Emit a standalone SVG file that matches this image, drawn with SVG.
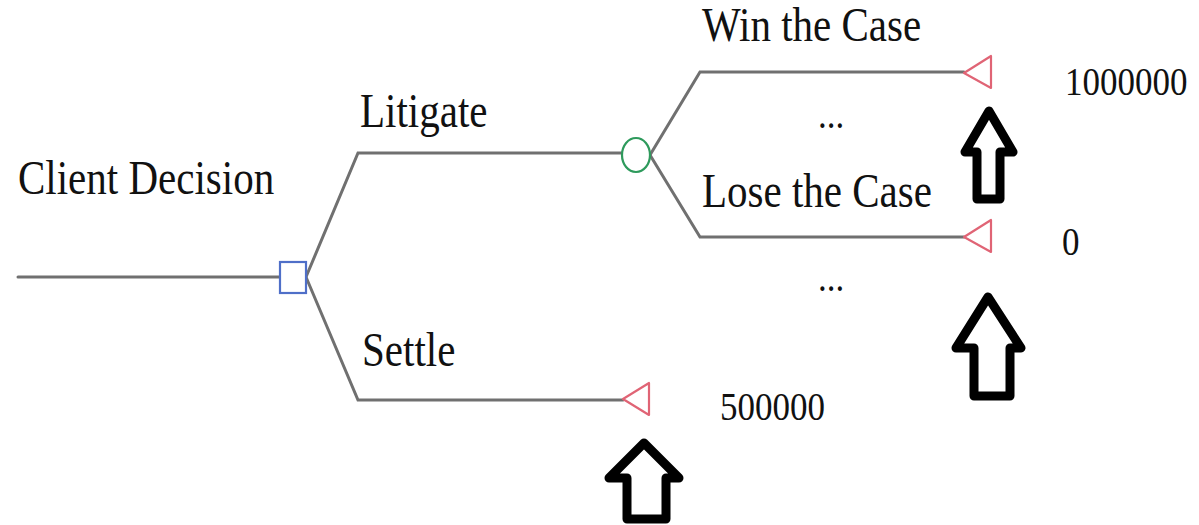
<svg xmlns="http://www.w3.org/2000/svg" width="1199" height="525" viewBox="0 0 1199 525">
  <style>
    .edge { fill: none; stroke: #707070; stroke-width: 3; stroke-linecap: round; }
    .decision { fill: #ffffff; stroke: #4f6fc8; stroke-width: 2.2; }
    .chance { fill: #ffffff; stroke: #2e9a5c; stroke-width: 2.2; }
    .terminal { fill: #ffffff; stroke: #e06475; stroke-width: 2.2; stroke-linejoin: round; }
    .pointer { fill: #ffffff; stroke: #000000; stroke-width: 9; stroke-linejoin: round; }
    .label { font-family: "Liberation Serif", "Times New Roman", serif; font-size: 41px; fill: #111111; }
    .value { font-family: "Liberation Serif", "Times New Roman", serif; font-size: 35px; fill: #111111; }
  </style>

  <!-- branches -->
  <g id="connectors">
    <line class="edge" x1="18" y1="277" x2="280" y2="277"/>
    <polyline class="edge" points="306,277 358,153 622,153"/>
    <polyline class="edge" points="306,277 358,400 623,400"/>
    <polyline class="edge" points="650,155 700,72 964,72"/>
    <polyline class="edge" points="650,155 700,237 964,237"/>
  </g>

  <!-- decision node -->
  <g id="client-decision">
    <rect class="decision" x="280" y="262" width="26" height="31"/>
    <text class="label" transform="matrix(1,0,0,1.17,18,194)">Client Decision</text>
  </g>

  <!-- litigate branch with chance node -->
  <g id="litigate">
    <text class="label" transform="matrix(1,0,0,1.17,360,127)">Litigate</text>
    <ellipse class="chance" cx="636" cy="155" rx="14" ry="17"/>
  </g>

  <g id="win">
    <text class="label" transform="matrix(1,0,0,1.17,702,41)">Win the Case</text>
    <polygon class="terminal" points="964,73 991,56 991,88"/>
    <text class="value" transform="matrix(1,0,0,1.17,1065,95)">1000000</text>
    <text class="value" transform="matrix(1,0,0,1.17,818,128)">...</text>
  </g>

  <g id="lose">
    <text class="label" transform="matrix(1,0,0,1.17,702,207)">Lose the Case</text>
    <polygon class="terminal" points="964,237 991,220 991,252"/>
    <text class="value" transform="matrix(1,0,0,1.17,1062,255)">0</text>
    <text class="value" transform="matrix(1,0,0,1.17,818,291)">...</text>
  </g>

  <g id="settle">
    <text class="label" transform="matrix(1,0,0,1.17,362,366)">Settle</text>
    <polygon class="terminal" points="623,399 649,383 649,415"/>
    <text class="value" transform="matrix(1,0,0,1.17,720,420)">500000</text>
  </g>

  <!-- outlined up-arrows under the payoffs -->
  <g id="pointers">
    <polygon class="pointer" points="989,111 1013,152 1000,152 1000,199 977,199 977,152 965,152"/>
    <polygon class="pointer" points="988,297 1021,348 1010,348 1010,396 974,396 974,348 956,348"/>
    <polygon class="pointer" points="644,443 679,478 666,478 666,519 627,519 627,478 609,478"/>
  </g>
</svg>
